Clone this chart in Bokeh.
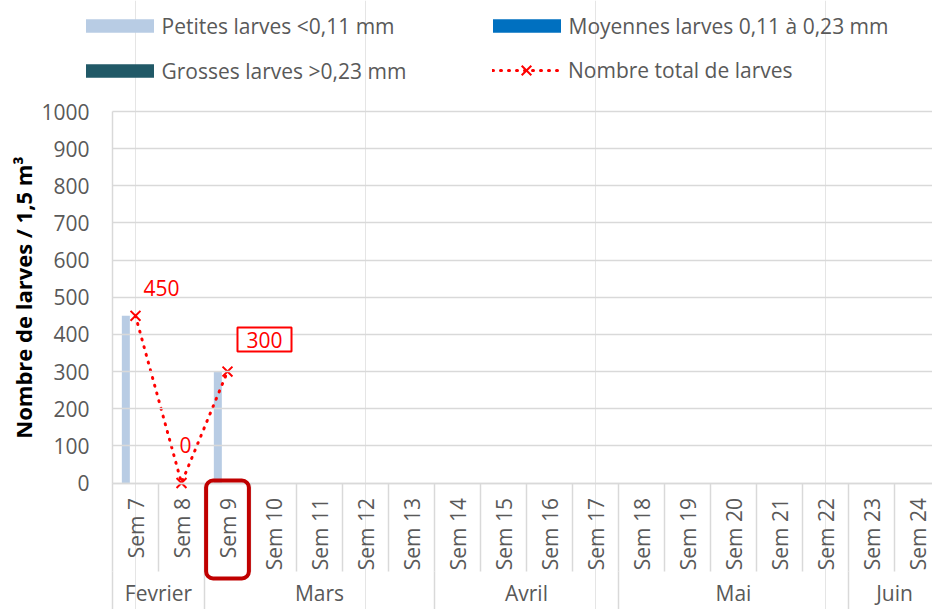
import math
from bokeh.plotting import figure
from bokeh.models import (ColumnDataSource, Range1d, LinearAxis, FixedTicker,
                          Legend, LegendItem, Label, BoxAnnotation)
from bokeh.transform import dodge
from bokeh.embed import file_html
from bokeh.resources import INLINE

NAN = float("nan")

# ---------------- data ----------------
weeks = ["Sem 7", "Sem 8", "Sem 9", "Sem 10", "Sem 11", "Sem 12", "Sem 13",
         "Sem 14", "Sem 15", "Sem 16", "Sem 17", "Sem 18", "Sem 19", "Sem 20",
         "Sem 21", "Sem 22", "Sem 23", "Sem 24"]
months = ["Fevrier", "Mars", "Avril", "Mai", "Juin"]
weeks_per_month = [2, 5, 4, 5, 2]

petites = [450, 0, 300] + [NAN] * 15
moyennes = [0, 0, 0] + [NAN] * 15
grosses = [0, 0, 0] + [NAN] * 15
total = [450, 0, 300] + [NAN] * 15

y_ticks = [0, 100, 200, 300, 400, 500, 600, 700, 800, 900, 1000]
series_labels = ["Petites larves <0,11 mm", "Moyennes larves 0,11 à 0,23 mm",
                 "Grosses larves >0,23 mm", "Nombre total de larves"]
y_title = "Nombre de larves / 1,5 m³"
highlight_week = "Sem 9"

# ---------------- style / layout ----------------
FONT = "Open Sans"
FS = "21px"
TXT = "#595959"
GRID = "#D9D9D9"
RED = "#FF0000"
COL_P, COL_M, COL_G = "#B8CCE4", "#0070C0", "#215967"

W, H = 932, 609
PLOT_L, PLOT_T, PLOT_B = 112, 111, 482.5   # plotting area edges (px)
CAT_W = 46                                 # px per week
Y_MAX = 1000
K = Y_MAX / (PLOT_B - PLOT_T)               # data units per px (vertical)

def y_at(px):
    """data y at a given pixel row"""
    return (PLOT_B - px) * K

x_lo = -0.5 - PLOT_L / CAT_W
x_hi = -0.5 + (W - PLOT_L) / CAT_W

x_idx = list(range(len(weeks)))
src = ColumnDataSource(dict(x=x_idx, petites=petites, moyennes=moyennes,
                            grosses=grosses, total=total))

p = figure(width=W, height=H, x_range=Range1d(x_lo, x_hi),
           y_range=Range1d(y_at(H), y_at(0)), x_axis_location=None,
           output_backend="svg", toolbar_location=None,
           min_border_left=0, min_border_top=0,
           min_border_right=0, min_border_bottom=0)
p.title.visible = False
p.outline_line_color = None
p.background_fill_color = "white"
p.border_fill_color = "white"
p.ygrid.visible = False

# y axis (its inward ticks act as the horizontal gridlines)
yax = p.yaxis[0]
yax.fixed_location = -0.5
yax.bounds = (0, Y_MAX)
yax.ticker = FixedTicker(ticks=y_ticks)
yax.major_tick_out = 0
yax.major_tick_in = W - PLOT_L
yax.major_tick_line_color = GRID
yax.major_tick_line_width = 1.5
yax.minor_tick_out = 0
yax.minor_tick_in = 0
yax.minor_tick_line_color = None
yax.axis_line_color = GRID
yax.axis_line_width = 1.5
yax.major_label_text_font = FONT
yax.major_label_text_font_size = FS
yax.major_label_text_color = TXT
yax.major_label_standoff = 23
yax.axis_label = y_title
yax.axis_label_text_font = FONT
yax.axis_label_text_font_size = "22px"
yax.axis_label_text_font_style = "bold"
yax.axis_label_text_color = "black"
yax.axis_label_standoff = 0

# week axis (separators drawn as long minor ticks; labels pulled back up)
WK_SEP = 88
week_edges = [i - 0.5 for i in range(len(weeks) + 1)]
wk_ax = LinearAxis(
    fixed_location=0, bounds=(-0.5, x_hi),
    ticker=FixedTicker(ticks=x_idx, minor_ticks=week_edges),
    major_label_overrides={i: w for i, w in enumerate(weeks)},
    major_label_orientation=math.pi / 2,
    major_label_standoff=15 - WK_SEP,
    major_label_text_font=FONT, major_label_text_font_size=FS,
    major_label_text_color=TXT,
    major_tick_out=0, major_tick_in=0, major_tick_line_color=None,
    minor_tick_out=WK_SEP, minor_tick_in=0,
    minor_tick_line_color=GRID, minor_tick_line_width=1.5,
    axis_line_color=GRID, axis_line_width=1.5,
)
p.add_layout(wk_ax, "below")

# month axis
MO_SEP = 42
month_centers, month_edges = [], [-0.5]
start = 0
for n in weeks_per_month:
    month_centers.append(start + (n - 1) / 2)
    start += n
    month_edges.append(start - 0.5)
mo_ax = LinearAxis(
    fixed_location=y_at(PLOT_B + WK_SEP), bounds=(-0.5, x_hi),
    ticker=FixedTicker(ticks=month_centers, minor_ticks=month_edges),
    major_label_overrides={c: m for c, m in zip(month_centers, months)},
    major_label_standoff=8 - MO_SEP,
    major_label_text_font=FONT, major_label_text_font_size=FS,
    major_label_text_color=TXT,
    major_tick_out=0, major_tick_in=0, major_tick_line_color=None,
    minor_tick_out=MO_SEP, minor_tick_in=0,
    minor_tick_line_color=GRID, minor_tick_line_width=1.5,
    axis_line_color=None,
)
p.add_layout(mo_ax, "below")

# bars
BW, OFF = 0.174, 0.21
r_p = p.vbar(x=dodge("x", -OFF, range=p.x_range), top="petites", width=BW,
             source=src, fill_color=COL_P, line_color=None)
r_m = p.vbar(x=dodge("x", 0, range=p.x_range), top="moyennes", width=BW,
             source=src, fill_color=COL_M, line_color=None)
r_g = p.vbar(x=dodge("x", OFF, range=p.x_range), top="grosses", width=BW,
             source=src, fill_color=COL_G, line_color=None)

# total line
r_l = p.line("x", "total", source=src, line_color=RED, line_width=3,
             line_dash="1 7", line_cap="round")
r_s = p.scatter("x", "total", source=src, marker="x", size=14,
                line_color=RED, line_width=2)

# data labels
offsets = [(26, 28), (4, 38), (37, 32)]
for i, (dx, dy) in enumerate(offsets):
    boxed = weeks[i] == highlight_week
    lab = Label(x=x_idx[i], y=total[i], text=str(total[i]),
                x_offset=dx, y_offset=dy,
                text_font=FONT, text_font_size=FS, text_color=RED,
                text_align="center", text_baseline="middle")
    if boxed:
        lab.border_line_color = RED
        lab.border_line_width = 2
        lab.background_fill_color = "white"
        lab.padding = (9, 4)
    p.add_layout(lab)

# highlight box around the week tick label
hi = weeks.index(highlight_week)
p.add_layout(BoxAnnotation(left=hi - 0.465, right=hi + 0.465,
                           top=y_at(PLOT_B - 2.5), bottom=y_at(PLOT_B + 95.5),
                           fill_alpha=0, line_color="#C00000", line_width=4,
                           line_alpha=1, border_radius=7))

# legends (one per entry, placed like the reference)
common = dict(padding=0, margin=0, spacing=0, border_line_color=None,
              background_fill_alpha=0, label_text_font=FONT,
              label_text_font_size=FS, label_text_color=TXT,
              orientation="vertical")

def add_legend(label, renderers, left, center_y, gw, gh, standoff, h):
    lg = Legend(items=[LegendItem(label=label, renderers=renderers)],
                location=(left, H - (center_y + h / 2)),
                glyph_width=gw, glyph_height=gh, label_standoff=standoff,
                **common)
    p.add_layout(lg)

ROW1, ROW2 = 25, 70
COL1, COL2 = 85, 492
add_legend(series_labels[0], [r_p], COL1 - 8.5, ROW1, 85, 17, 0, 29)
add_legend(series_labels[1], [r_m], COL2 - 8.5, ROW1, 85, 17, 0, 29)
add_legend(series_labels[2], [r_g], COL1 - 8.5, ROW2, 85, 17, 0, 29)
add_legend(series_labels[3], [r_l, r_s], COL2, ROW2, 68, 34, 8, 34)

open("out.html", "w").write(file_html(p, INLINE))
